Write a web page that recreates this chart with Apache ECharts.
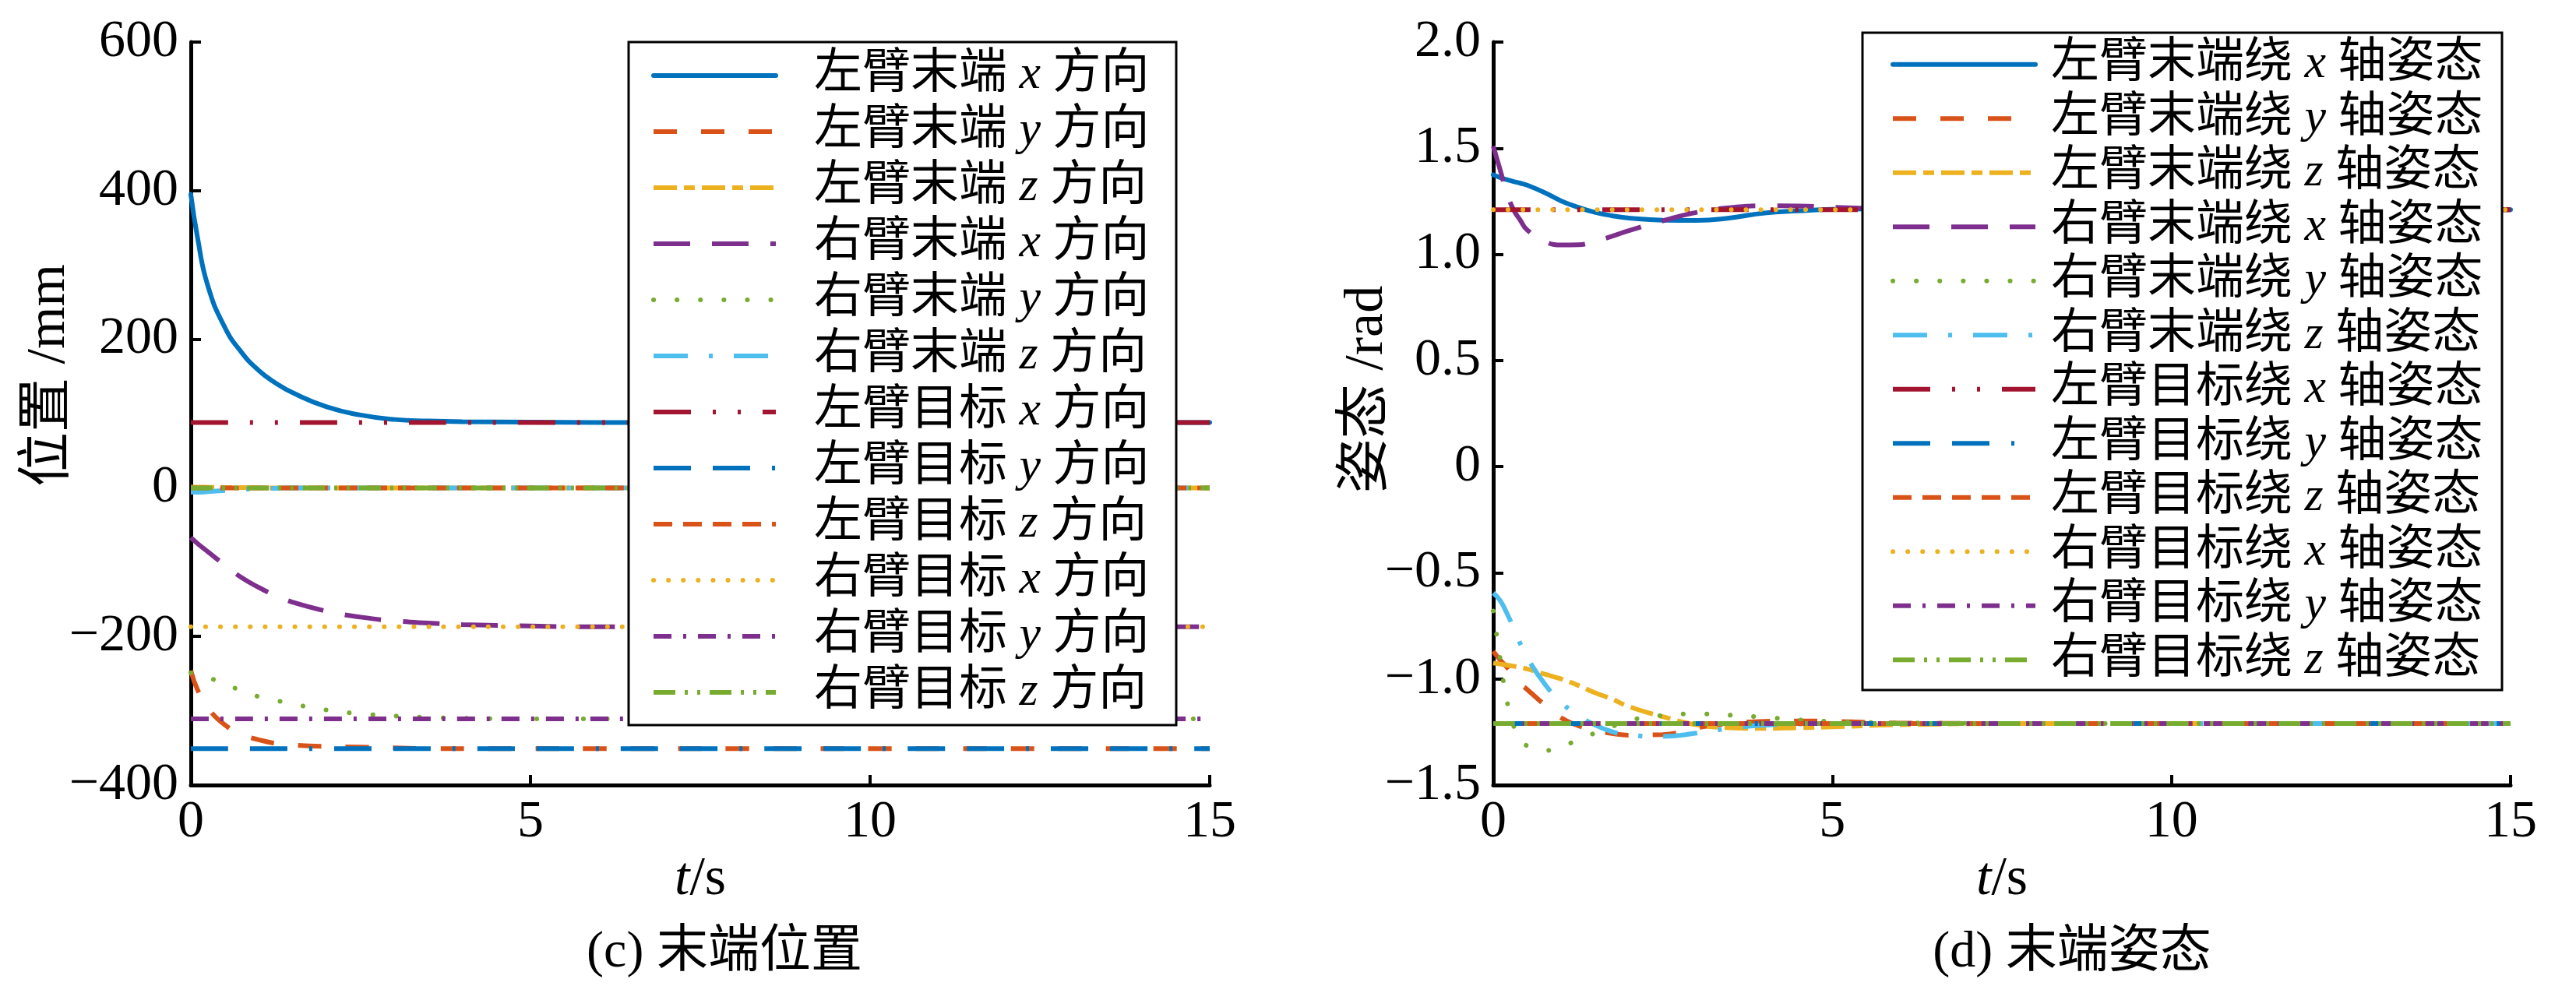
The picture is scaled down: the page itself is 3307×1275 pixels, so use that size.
<!DOCTYPE html>
<html>
<head>
<meta charset="utf-8">
<script src="https://cdn.jsdelivr.net/npm/echarts@6/dist/echarts.min.js"></script>
<style>
  html, body { margin: 0; padding: 0; background: #fff; }
  #main { width: 3307px; height: 1275px; }
</style>
</head>
<body>
<div id="main"></div>
<script>
// ---- data: (c) end position, mm ----
var posT = [0, 0.1, 0.25, 0.5, 0.75, 1, 1.25, 1.5, 2, 2.5, 3, 3.5, 4, 5, 6, 8, 10, 15];
var leftEndX  = [395, 336, 272, 216, 182, 158, 141, 128, 109, 98, 92, 90, 89, 88.5, 88, 88, 88, 88];
var leftEndY  = [-246, -272, -296, -319, -332, -339, -344, -346, -348, -349, -350, -351, -351, -351, -351, -351, -351, -351];
var leftEndZ  = [1, 1, 0.8, 0.5, 0.3, 0, 0, 0, 0, 0, 0, 0, 0, 0, 0, 0, 0, 0];
var rightEndX = [-67, -75, -86, -104, -121, -134, -145, -154, -166, -174, -179, -182, -184, -186, -187, -187, -187, -187];
var rightEndY = [-249, -251, -255, -264, -273, -281, -286, -291, -299, -304, -307, -309, -310, -311, -311, -311, -311, -311];
var rightEndZ = [-6, -6, -5, -3.5, -2, -1, -0.5, 0, 0, 0, 0, 0, 0, 0, 0, 0, 0, 0];
var tgtT = [0, 15];
var leftTgtX  = [88, 88];
var leftTgtY  = [-351, -351];
var leftTgtZ  = [0, 0];
var rightTgtX = [-187, -187];
var rightTgtY = [-311, -311];
var rightTgtZ = [0, 0];

// ---- data: (d) end attitude, rad ----
var attT = [0, 0.1, 0.2, 0.3, 0.4, 0.5, 0.75, 1, 1.25, 1.5, 1.75, 2, 2.5, 3, 3.5, 4, 4.5, 5, 6, 8, 10, 15];
var lRotX = [1.375, 1.362, 1.352, 1.343, 1.335, 1.326, 1.292, 1.252, 1.222, 1.198, 1.182, 1.171, 1.161, 1.160, 1.172, 1.195, 1.205, 1.212, 1.215, 1.212, 1.21, 1.21];
var lRotY = [-0.87, -0.91, -0.945, -0.99, -1.025, -1.05, -1.12, -1.183, -1.22, -1.243, -1.257, -1.265, -1.262, -1.23, -1.21, -1.2, -1.198, -1.2, -1.208, -1.21, -1.21, -1.21];
var lRotZ = [-0.925, -0.93, -0.935, -0.94, -0.946, -0.953, -0.977, -1.0, -1.03, -1.065, -1.095, -1.13, -1.178, -1.216, -1.23, -1.233, -1.23, -1.226, -1.216, -1.21, -1.21, -1.21];
var rRotX = [1.51, 1.40, 1.29, 1.21, 1.16, 1.115, 1.062, 1.044, 1.045, 1.062, 1.085, 1.112, 1.158, 1.198, 1.22, 1.229, 1.228, 1.222, 1.214, 1.21, 1.21, 1.21];
var rRotY = [-0.68, -0.9, -1.1, -1.22, -1.287, -1.315, -1.338, -1.318, -1.288, -1.255, -1.225, -1.196, -1.172, -1.165, -1.171, -1.181, -1.193, -1.2, -1.207, -1.21, -1.21, -1.21];
var rRotZ = [-0.595, -0.63, -0.69, -0.76, -0.835, -0.9, -1.02, -1.11, -1.17, -1.217, -1.248, -1.265, -1.271, -1.255, -1.232, -1.218, -1.212, -1.21, -1.21, -1.21, -1.21, -1.21];
var lTgtRotX = [1.21, 1.21];
var lTgtRotY = [-1.21, -1.21];
var lTgtRotZ = [-1.21, -1.21];
var rTgtRotX = [1.21, 1.21];
var rTgtRotY = [-1.21, -1.21];
var rTgtRotZ = [-1.21, -1.21];

var posNames = ['左臂末端x方向', '左臂末端y方向', '左臂末端z方向', '右臂末端x方向', '右臂末端y方向', '右臂末端z方向',
                '左臂目标x方向', '左臂目标y方向', '左臂目标z方向', '右臂目标x方向', '右臂目标y方向', '右臂目标z方向'];
var attNames = ['左臂末端绕x轴姿态', '左臂末端绕y轴姿态', '左臂末端绕z轴姿态', '右臂末端绕x轴姿态', '右臂末端绕y轴姿态', '右臂末端绕z轴姿态',
                '左臂目标绕x轴姿态', '左臂目标绕y轴姿态', '左臂目标绕z轴姿态', '右臂目标绕x轴姿态', '右臂目标绕y轴姿态', '右臂目标绕z轴姿态'];

// MATLAB-like colours and line styles, same order for both panels
var colors = ['#0072BD', '#D95319', '#EDB120', '#7E2F8E', '#77AC30', '#4DBEEE',
              '#A2142F', '#0072BD', '#D95319', '#EDB120', '#7E2F8E', '#77AC30'];
var dashes = ['solid', [30, 31], [30, 9, 14, 9], [47, 28], [0.1, 30], [44, 27, 5, 27],
              [48, 28, 4, 28, 4, 28], [48, 28, 48, 28, 4, 28], [24, 14], [0.1, 19], [23, 15, 4, 15], [28, 12, 4, 12, 4, 12]];
var caps = ['round', 'butt', 'butt', 'butt', 'round', 'butt', 'butt', 'butt', 'butt', 'round', 'butt', 'butt'];

var serif = "'Liberation Serif', 'Noto Sans CJK SC'";

function pairs(ts, vs) {
    return ts.map(function (t, i) { return [t, vs[i]]; });
}

function mkSeries(name, ts, vs, k, gi) {
    return {
        name: name,
        type: 'line',
        xAxisIndex: gi,
        yAxisIndex: gi,
        data: pairs(ts, vs),
        symbol: 'none',
        showSymbol: false,
        smooth: 0.5,
        lineStyle: { color: colors[k], width: 6, type: dashes[k], cap: caps[k] },
        itemStyle: { color: colors[k] }
    };
}

var posData = [
    [posT, leftEndX], [posT, leftEndY], [posT, leftEndZ], [posT, rightEndX], [posT, rightEndY], [posT, rightEndZ],
    [tgtT, leftTgtX], [tgtT, leftTgtY], [tgtT, leftTgtZ], [tgtT, rightTgtX], [tgtT, rightTgtY], [tgtT, rightTgtZ]
];
var attData = [
    [attT, lRotX], [attT, lRotY], [attT, lRotZ], [attT, rRotX], [attT, rRotY], [attT, rRotZ],
    [tgtT, lTgtRotX], [tgtT, lTgtRotY], [tgtT, lTgtRotZ], [tgtT, rTgtRotX], [tgtT, rTgtRotY], [tgtT, rTgtRotZ]
];

var series = [];
posData.forEach(function (d, k) { series.push(mkSeries(posNames[k], d[0], d[1], k, 0)); });
attData.forEach(function (d, k) { series.push(mkSeries(attNames[k], d[0], d[1], k, 1)); });

function minus(s) { return s.replace('-', '\u2212'); }

function xAxis(gi) {
    return {
        type: 'value', gridIndex: gi, min: 0, max: 15, interval: 5,
        name: '{i|t}/s', nameLocation: 'middle', nameGap: 82,
        nameTextStyle: { fontSize: 70, fontFamily: serif, color: '#000',
            rich: { i: { fontSize: 70, fontFamily: 'Liberation Serif', fontStyle: 'italic', color: '#000' } } },
        axisLine: { show: true, onZero: false, lineStyle: { color: '#000', width: 5 } },
        axisTick: { show: true, inside: true, length: 13, lineStyle: { color: '#000', width: 4 } },
        axisLabel: { fontSize: 68, fontFamily: 'Liberation Serif', color: '#000', margin: 14 },
        splitLine: { show: false }
    };
}

function yAxis(gi, min, max, step, fmt) {
    return {
        type: 'value', gridIndex: gi, min: min, max: max, interval: step,
        axisLine: { show: true, onZero: false, lineStyle: { color: '#000', width: 5 } },
        axisTick: { show: true, inside: true, length: 13, lineStyle: { color: '#000', width: 4 } },
        axisLabel: { fontSize: 68, fontFamily: 'Liberation Serif', color: '#000', margin: 16, formatter: fmt },
        splitLine: { show: false }
    };
}

// rotated y-axis titles, placed a little above the axis middle as in the source figure
function yTitle(text, x, y) {
    return {
        type: 'text', x: x, y: y, rotation: Math.PI / 2,
        style: { text: text, x: 0, y: 0, align: 'center', verticalAlign: 'middle',
                 font: "70px 'Liberation Serif', 'Noto Sans CJK SC'", fill: '#000' }
    };
}

function legendFmt(name) {
    return name.replace(/([xyz])/, ' {i|$1} ');
}

function legend(names, left, top, pad, iw, textPad, textW, lh) {
    return {
        data: names, orient: 'vertical', align: 'left', selectedMode: false,
        left: left, top: top, padding: pad,
        itemWidth: iw, itemHeight: 14, itemGap: 0,
        borderColor: '#000', borderWidth: 3, backgroundColor: '#fff',
        lineStyle: { width: 6 },
        itemStyle: { color: 'rgba(0,0,0,0)', borderWidth: 0, opacity: 0 },
        formatter: legendFmt,
        textStyle: {
            fontSize: 62, lineHeight: lh, fontFamily: serif, color: '#000',
            padding: [0, 0, 0, textPad], width: textW,
            rich: { i: { fontSize: 62, lineHeight: lh, fontFamily: 'Liberation Serif', fontStyle: 'italic', color: '#000' } }
        }
    };
}

var chart = echarts.init(document.getElementById('main'));
var option = {
    animation: false,
    backgroundColor: '#fff',
    title: [
        { text: '(c) 末端位置', left: 925, top: 1186, textAlign: 'center',
          textStyle: { fontSize: 66, fontWeight: 'normal', fontFamily: serif, color: '#000' } },
        { text: '(d) 末端姿态', left: 2655, top: 1186, textAlign: 'center',
          textStyle: { fontSize: 66, fontWeight: 'normal', fontFamily: serif, color: '#000' } }
    ],
    graphic: [
        yTitle('位置 /mm', 64, 482),
        yTitle('姿态 /rad', 1756, 500)
    ],
    grid: [
        { left: 245, top: 54, width: 1308, height: 954 },
        { left: 1917, top: 54, width: 1306, height: 954 }
    ],
    xAxis: [xAxis(0), xAxis(1)],
    yAxis: [
        yAxis(0, -400, 600, 200, function (v) { return minus(String(v)); }),
        yAxis(1, -1.5, 2.0, 0.5, function (v) { return v === 0 ? '0' : minus(v.toFixed(1)); })
    ],
    legend: [
        legend(posNames, 807, 54, [7, 0, 6, 29], 157, 44, 465, 72),
        legend(attNames, 2391, 42, [6, 0, 4, 36], 183, 15, 579, 69.5)
    ],
    series: series
};

option && chart.setOption(option);

window.addEventListener('resize', function () {
    chart.resize();
});
</script>
</body>
</html>
